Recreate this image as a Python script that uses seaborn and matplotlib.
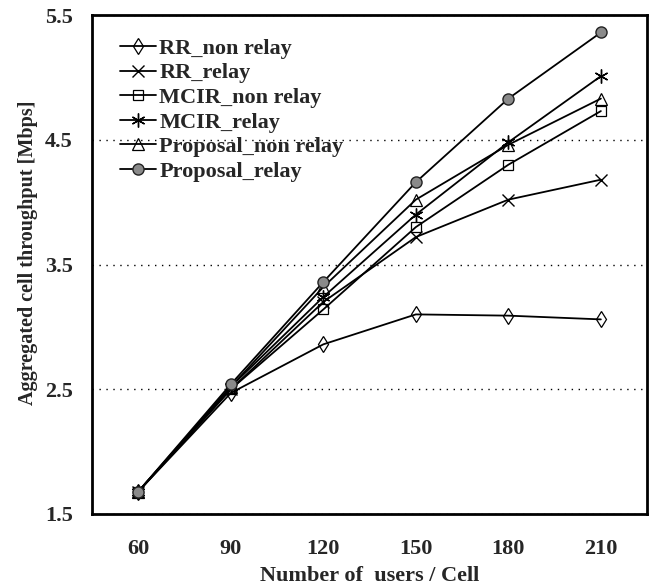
import matplotlib
matplotlib.use("Agg")
import matplotlib.pyplot as plt
import pandas as pd
import seaborn as sns

# users per cell
users = [60, 90, 120, 150, 180, 210]

# aggregated cell throughput [Mbps]
rr_non_relay = [1.68, 2.47, 2.86, 3.10, 3.09, 3.06]
rr_relay = [1.68, 2.50, 3.20, 3.72, 4.02, 4.18]
mcir_non_relay = [1.68, 2.50, 3.14, 3.80, 4.30, 4.73]
mcir_relay = [1.68, 2.52, 3.24, 3.90, 4.48, 5.01]
proposal_non_relay = [1.68, 2.52, 3.32, 4.02, 4.46, 4.83]
proposal_relay = [1.68, 2.54, 3.36, 4.16, 4.83, 5.36]

series_names = ["RR_non relay", "RR_relay", "MCIR_non relay",
                "MCIR_relay", "Proposal_non relay", "Proposal_relay"]
series_values = [rr_non_relay, rr_relay, mcir_non_relay,
                 mcir_relay, proposal_non_relay, proposal_relay]

y_ticks = [1.5, 2.5, 3.5, 4.5, 5.5]


def build_frame():
    rows = []
    for name, vals in zip(series_names, series_values):
        for u, v in zip(users, vals):
            rows.append({"users": u, "throughput": v, "series": name})
    return pd.DataFrame(rows)


def plot_throughput(df):
    sns.set_style("white")
    plt.rcParams['font.family'] = ['Liberation Serif', 'DejaVu Serif']
    plt.rcParams['font.weight'] = 'bold'

    fig = plt.figure(figsize=(6.53, 5.87), dpi=100)
    ax = fig.add_axes([0.141, 0.1244, 0.850, 0.850])

    open_mk = dict(markerfacecolor="none", markeredgecolor="black",
                   markeredgewidth=0.9)
    styles = {
        "RR_non relay": dict(marker="d", markersize=8, **open_mk),
        "RR_relay": dict(marker="x", markersize=9, markeredgecolor="black",
                         markeredgewidth=1.0),
        "MCIR_non relay": dict(marker="s", markersize=7, **open_mk),
        "MCIR_relay": dict(marker=(6, 2, 0), markersize=10,
                           markeredgecolor="black", markeredgewidth=1.0),
        "Proposal_non relay": dict(marker="^", markersize=8, **open_mk),
        "Proposal_relay": dict(marker="o", markersize=8, markerfacecolor="#8a8a8a",
                               markeredgecolor="#222222", markeredgewidth=1.0),
    }

    for name in series_names:
        sub = df[df["series"] == name]
        sns.lineplot(data=sub, x="users", y="throughput", ax=ax, label=name,
                     color="black", linewidth=1.3, **styles[name])

    ax.set_xlim(45, 225)
    ax.set_ylim(1.5, 5.5)
    ax.set_xticks(users)
    ax.set_xticks([75, 105, 135, 165, 195], minor=True)
    ax.set_yticks(y_ticks)
    ax.set_yticklabels([f"{t:.1f}" for t in y_ticks])
    ax.tick_params(axis="both", which="both", direction="in", length=4,
                   width=1, labelsize=16)
    ax.tick_params(axis="x", pad=18)
    ax.tick_params(axis="y", pad=14)
    for lab in ax.get_xticklabels() + ax.get_yticklabels():
        lab.set_fontweight("bold")

    ax.yaxis.grid(True, linestyle=(0, (1, 4)), color="black", linewidth=1)
    ax.xaxis.grid(False)
    for sp in ax.spines.values():
        sp.set_linewidth(2)
        sp.set_color("black")

    ax.set_xlabel("Number of  users / Cell", fontsize=16, fontweight="bold",
                  labelpad=5)
    ax.set_ylabel("Aggregated cell throughput [Mbps]", fontsize=14.5,
                  fontweight="bold")
    ax.yaxis.set_label_coords(-0.097, 0.523)

    ax.legend(loc="upper left", frameon=False,
              prop={"weight": "bold", "size": 16}, handlelength=1.6,
              handletextpad=0.15, labelspacing=0.18, borderaxespad=0.0,
              bbox_to_anchor=(0.035, 0.971))

    fig.savefig("out.png", dpi=100)


def main():
    df = build_frame()
    plot_throughput(df)


if __name__ == "__main__":
    main()
